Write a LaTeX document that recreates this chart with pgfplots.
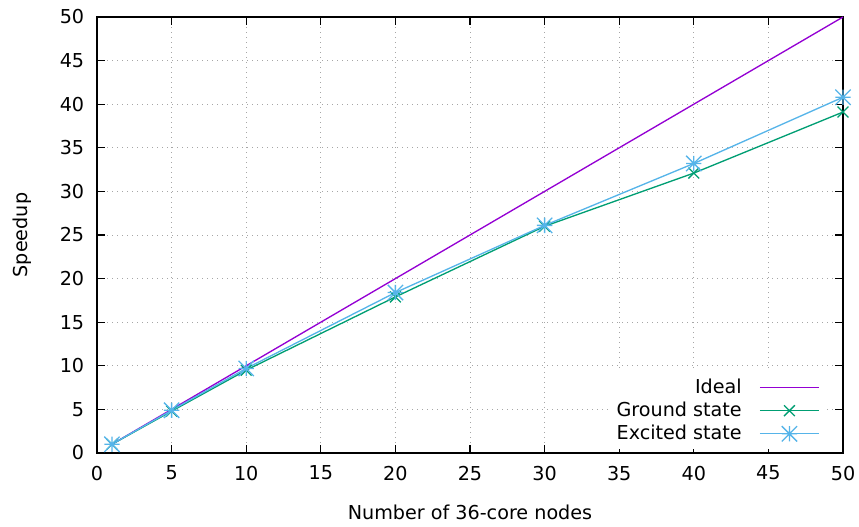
\documentclass[border=0pt]{standalone}
\usepackage{pgfplots}
\pgfplotsset{compat=1.18}
\usetikzlibrary{calc}
\usepackage{fontspec}
\setmainfont{DejaVu Sans}
\definecolor{cideal}{HTML}{9400D3}
\definecolor{cground}{HTML}{009E73}
\definecolor{cexc}{HTML}{56B4E9}
\pgfdeclareplotmark{gpstar}{%
  \pgfpathmoveto{\pgfqpoint{-\pgfplotmarksize}{0pt}}\pgfpathlineto{\pgfqpoint{\pgfplotmarksize}{0pt}}%
  \pgfpathmoveto{\pgfqpoint{0pt}{-\pgfplotmarksize}}\pgfpathlineto{\pgfqpoint{0pt}{\pgfplotmarksize}}%
  \pgfpathmoveto{\pgfqpoint{-\pgfplotmarksize}{-\pgfplotmarksize}}\pgfpathlineto{\pgfqpoint{\pgfplotmarksize}{\pgfplotmarksize}}%
  \pgfpathmoveto{\pgfqpoint{-\pgfplotmarksize}{\pgfplotmarksize}}\pgfpathlineto{\pgfqpoint{\pgfplotmarksize}{-\pgfplotmarksize}}%
  \pgfusepathqstroke}
\begin{document}
\fontsize{11.5}{13.8}\selectfont
\begin{tikzpicture}
\begin{axis}[
  scale only axis,
  width=447.6pt, height=261.6pt,
  xmin=0, xmax=50, ymin=0, ymax=50,
  xtick={0,5,...,50}, ytick={0,5,...,50},
  tick align=inside, major tick length=4.8pt,
  tick style={black, line width=0.7pt},
  axis line style={black, line width=0.9pt},
  grid=major,
  major grid style={gray!70, line width=0.5pt, dash pattern=on 0.6pt off 2.4pt},
  /pgf/number format/assume math mode=true,
  font=\fontsize{11.5}{13.8}\selectfont,
  ticklabel style={font=\fontsize{11.5}{13.8}\selectfont, inner sep=0pt},
  xticklabel style={yshift=-7.5pt},
  yticklabel style={xshift=-7.5pt},
  xlabel={Number of 36-core nodes},
  ylabel={Speedup},
  every axis x label/.style={at={(axis description cs:0.5,-0.135)}, anchor=center},
  every axis y label/.style={at={(axis description cs:-0.1005,0.5)}, anchor=center, rotate=90},
  legend style={at={(rel axis cs:0.976,0.008)}, anchor=south east, draw=none, fill=white,
    legend plot pos=right, legend cell align=right,
    row sep=-0.6pt,
    font=\fontsize{11.5}{13.8}\selectfont,
    /tikz/every odd column/.append style={column sep=8.4pt}},
  legend image code/.code={\draw[#1,mark=none] (0pt,0pt) -- (35.6pt,0pt); \draw[#1] plot coordinates {(17.8pt,0pt)};},
]
\coordinate (sw) at (rel axis cs:0,0);
\coordinate (ne) at (rel axis cs:1,1);
\addplot[cideal, line width=0.8pt, mark=none] coordinates {(1,1) (50,50)};
\addlegendentry{Ideal}
\addplot[cground, line width=0.8pt, mark=x, mark size=4.6pt, mark options={line width=0.8pt}] coordinates {
(1,1) (5,4.8) (10,9.5) (20,17.9) (30,26.0) (40,32.1) (50,39.1)};
\addlegendentry{Ground state}
\addplot[cexc, line width=0.8pt, mark=gpstar, mark size=4.6pt, mark options={line width=0.8pt}] coordinates {
(1,1) (5,4.9) (10,9.7) (20,18.4) (30,26.1) (40,33.2) (50,40.8)};
\addlegendentry{Excited state}
\end{axis}
\path ($(sw)+(-58.2pt,-43.8pt)$) rectangle ($(ne)+(9.6pt,10.2pt)$);
\end{tikzpicture}
\end{document}
